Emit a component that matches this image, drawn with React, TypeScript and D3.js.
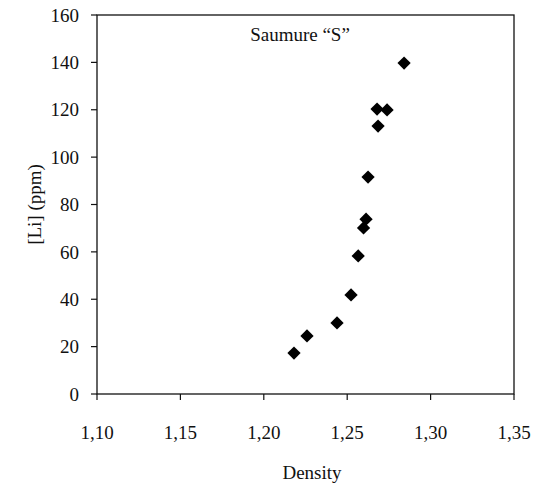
import * as d3 from "d3";

const density = [1.2841, 1.2679, 1.2739, 1.2685, 1.2625, 1.2613, 1.2598, 1.2566, 1.2523, 1.2439, 1.2259, 1.2181];
const lithium = [139.7, 120.3, 119.9, 113.1, 91.6, 73.8, 70.1, 58.3, 41.8, 30.0, 24.5, 17.3];
const xTicks = [1.1, 1.15, 1.2, 1.25, 1.3, 1.35];
const yTicks = [0, 20, 40, 60, 80, 100, 120, 140, 160];

const width = 535;
const height = 486;
const margin = { top: 15, right: 21, bottom: 92, left: 97 };
const font = '"Liberation Serif", "Times New Roman", serif';
const fs = 19;

export default function App() {
  const x = d3
    .scaleLinear()
    .domain([1.1, 1.35])
    .range([margin.left, width - margin.right]);
  const y = d3
    .scaleLinear()
    .domain([0, 160])
    .range([height - margin.bottom, margin.top]);

  const diamond = d3.symbol(d3.symbolSquare, 88)();
  const points = density.map((d, i) => ({ d, v: lithium[i] }));
  const fmt = (t: number) => t.toFixed(2).replace(".", ",");

  return (
    <svg
      width={width}
      height={height}
      fontFamily={font}
      style={{ position: "absolute", left: 0, top: 0 }}
    >
      <rect width={width} height={height} fill="white" />
      <rect
        x={x(1.1)}
        y={y(160)}
        width={x(1.35) - x(1.1)}
        height={y(0) - y(160)}
        fill="none"
        stroke="#111"
        strokeWidth={1.3}
      />
      {yTicks.map((t) => (
        <g key={t} transform={`translate(0, ${y(t)})`}>
          <line x1={x(1.1) - 6} x2={x(1.1)} stroke="#111" strokeWidth={1.2} />
          <text
            x={x(1.1) - 18}
            dy="0.35em"
            textAnchor="end"
            fontSize={fs}
            fill="#111"
          >
            {t}
          </text>
        </g>
      ))}
      {xTicks.map((t) => (
        <g key={t} transform={`translate(${x(t)}, 0)`}>
          <line y1={y(0)} y2={y(0) + 6} stroke="#111" strokeWidth={1.2} />
          <text
            y={y(0) + 45}
            textAnchor="middle"
            fontSize={fs}
            fill="#111"
          >
            {fmt(t)}
          </text>
        </g>
      ))}
      <text x={300} y={41} textAnchor="middle" fontSize={fs} fill="#111">
        Saumure “S”
      </text>
      <text
        x={312}
        y={479}
        textAnchor="middle"
        fontSize={fs}
        fill="#111"
      >
        Density
      </text>
      <text
        transform={`translate(41, ${(y(0) + y(160)) / 2}) rotate(-90)`}
        textAnchor="middle"
        fontSize={fs}
        fill="#111"
      >
        [Li] (ppm)
      </text>
      {points.map((p, i) => (
        <path
          key={i}
          d={diamond ?? ""}
          transform={`translate(${x(p.d)}, ${y(p.v)}) rotate(45)`}
          fill="#000"
        />
      ))}
    </svg>
  );
}
